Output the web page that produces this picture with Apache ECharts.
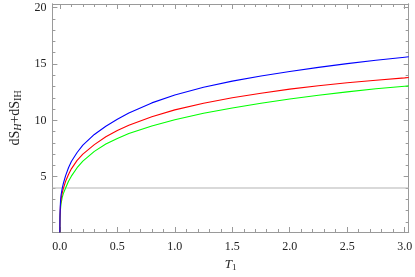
<!DOCTYPE html>
<html><head><meta charset="utf-8">
<script src="https://cdn.jsdelivr.net/npm/echarts@6/dist/echarts.min.js"></script>
<style>html,body{margin:0;padding:0;background:#fff}#c{width:415px;height:277px}</style>
</head><body><div id="c"></div>
<script>
// Data
var xVals   = [0, 0.001, 0.003, 0.006, 0.01, 0.02, 0.03, 0.05, 0.075, 0.1, 0.15, 0.2, 0.3, 0.4, 0.5, 0.6, 0.8, 1.0, 1.25, 1.5, 1.75, 2.0, 2.25, 2.5, 2.75, 3.0, 3.035];
var blueY   = [0, 1.5, 2.3, 2.9, 3.35, 3.95, 4.4, 5.1, 5.8, 6.35, 7.15, 7.8, 8.75, 9.48, 10.1, 10.65, 11.55, 12.25, 12.93, 13.48, 13.94, 14.34, 14.7, 15.03, 15.33, 15.6, 15.64];
var redY    = [0, 1.3, 2.0, 2.55, 2.95, 3.55, 3.95, 4.6, 5.2, 5.7, 6.45, 7.0, 7.85, 8.55, 9.1, 9.57, 10.32, 10.93, 11.52, 12.0, 12.41, 12.77, 13.07, 13.33, 13.56, 13.77, 13.8];
var greenY  = [0, 1.1, 1.7, 2.2, 2.6, 3.15, 3.5, 4.0, 4.6, 5.05, 5.8, 6.38, 7.25, 7.9, 8.4, 8.83, 9.5, 10.05, 10.63, 11.1, 11.52, 11.9, 12.23, 12.53, 12.8, 13.03, 13.06];
var hLevel  = 4;
var xMajor  = [0, 0.5, 1, 1.5, 2, 2.5, 3];
var xMinor  = [0,0.1,0.2,0.3,0.4,0.5,0.6,0.7,0.8,0.9,1,1.1,1.2,1.3,1.4,1.5,1.6,1.7,1.8,1.9,2,2.1,2.2,2.3,2.4,2.5,2.6,2.7,2.8,2.9,3];
var yMajor  = [5, 10, 15, 20];
var yMinor  = [1,2,3,4,5,6,7,8,9,10,11,12,13,14,15,16,17,18,19,20];
var xRange  = [-0.065, 3.035];
var yRange  = [0.1, 20.32];

function pairs(xs, ys){ return xs.map(function(x,i){ return [x, ys[i]]; }); }

var frameColor = '#9a9a9a';
var font = 'Liberation Serif';
function xAx(pos, ticks, len, labels, name){
  var a = {type:'value', position:pos, min:xRange[0], max:xRange[1],
    axisLine:{show:true, onZero:false, lineStyle:{color:frameColor, width:1}},
    axisTick:{show:true, inside:true, length:len, customValues:ticks, lineStyle:{color:frameColor}},
    axisLabel:{show:labels, customValues:xMajor, margin:9, color:'#222', fontFamily:font, fontSize:12,
      formatter:function(v){return v.toFixed(1);}},
    splitLine:{show:false}};
  if(name){
    a.name = '{i|T}{s|1}'; a.nameLocation='middle'; a.nameGap=25;
    a.nameTextStyle = {rich:{i:{fontFamily:font,fontStyle:'italic',fontSize:13,color:'#222'},
                              s:{fontFamily:font,fontSize:9,color:'#222',verticalAlign:'bottom',padding:[6,0,0,0]}}};
  }
  return a;
}
function yAx(pos, ticks, len, labels, name){
  var a = {type:'value', position:pos, min:yRange[0], max:yRange[1],
    axisLine:{show:true, onZero:false, lineStyle:{color:frameColor, width:1}},
    axisTick:{show:true, inside:true, length:len, customValues:ticks, lineStyle:{color:frameColor}},
    axisLabel:{show:labels, customValues:yMajor, margin:6, color:'#222', fontFamily:font, fontSize:12},
    splitLine:{show:false}};
  if(name){
    a.name = 'dS{si|H}+dS{s|IH}'; a.nameLocation='middle'; a.nameGap=22; a.nameRotate=90;
    a.nameTextStyle = {fontFamily:font, fontSize:14, color:'#222',
      rich:{si:{fontFamily:font,fontStyle:'italic',fontSize:10,color:'#222',padding:[7,0,0,0]},
            s:{fontFamily:font,fontSize:10,color:'#222',padding:[7,0,0,0]}}};
  }
  return a;
}

var chart = echarts.init(document.getElementById('c'), null, {renderer:'canvas'});
var lineBase = {type:'line', showSymbol:false, smooth:false};
chart.setOption({
  animation:false,
  backgroundColor:'#fff',
  grid:{left:39, right:3, top:4, bottom:41.5, containLabel:false},
  xAxis:[xAx('bottom', xMajor, 5, true, true), xAx('bottom', xMinor, 3, false, false),
         xAx('top', xMajor, 5, false, false), xAx('top', xMinor, 3, false, false)],
  yAxis:[yAx('left', yMajor, 5, true, true), yAx('left', yMinor, 3, false, false),
         yAx('right', yMajor, 5, false, false), yAx('right', yMinor, 3, false, false)],
  series:[
    {type:'line', data:pairs(xRange, [hLevel,hLevel]), showSymbol:false, lineStyle:{color:'#b4b4b4', width:1.2}, z:1},
    Object.assign({}, lineBase, {data:pairs(xVals, greenY), lineStyle:{color:'#00ff00', width:1.1}, z:2}),
    Object.assign({}, lineBase, {data:pairs(xVals, redY), lineStyle:{color:'#ff0000', width:1.1}, z:3}),
    Object.assign({}, lineBase, {data:pairs(xVals, blueY), lineStyle:{color:'#0000ff', width:1.1}, z:4})
  ]
});
</script></body></html>
